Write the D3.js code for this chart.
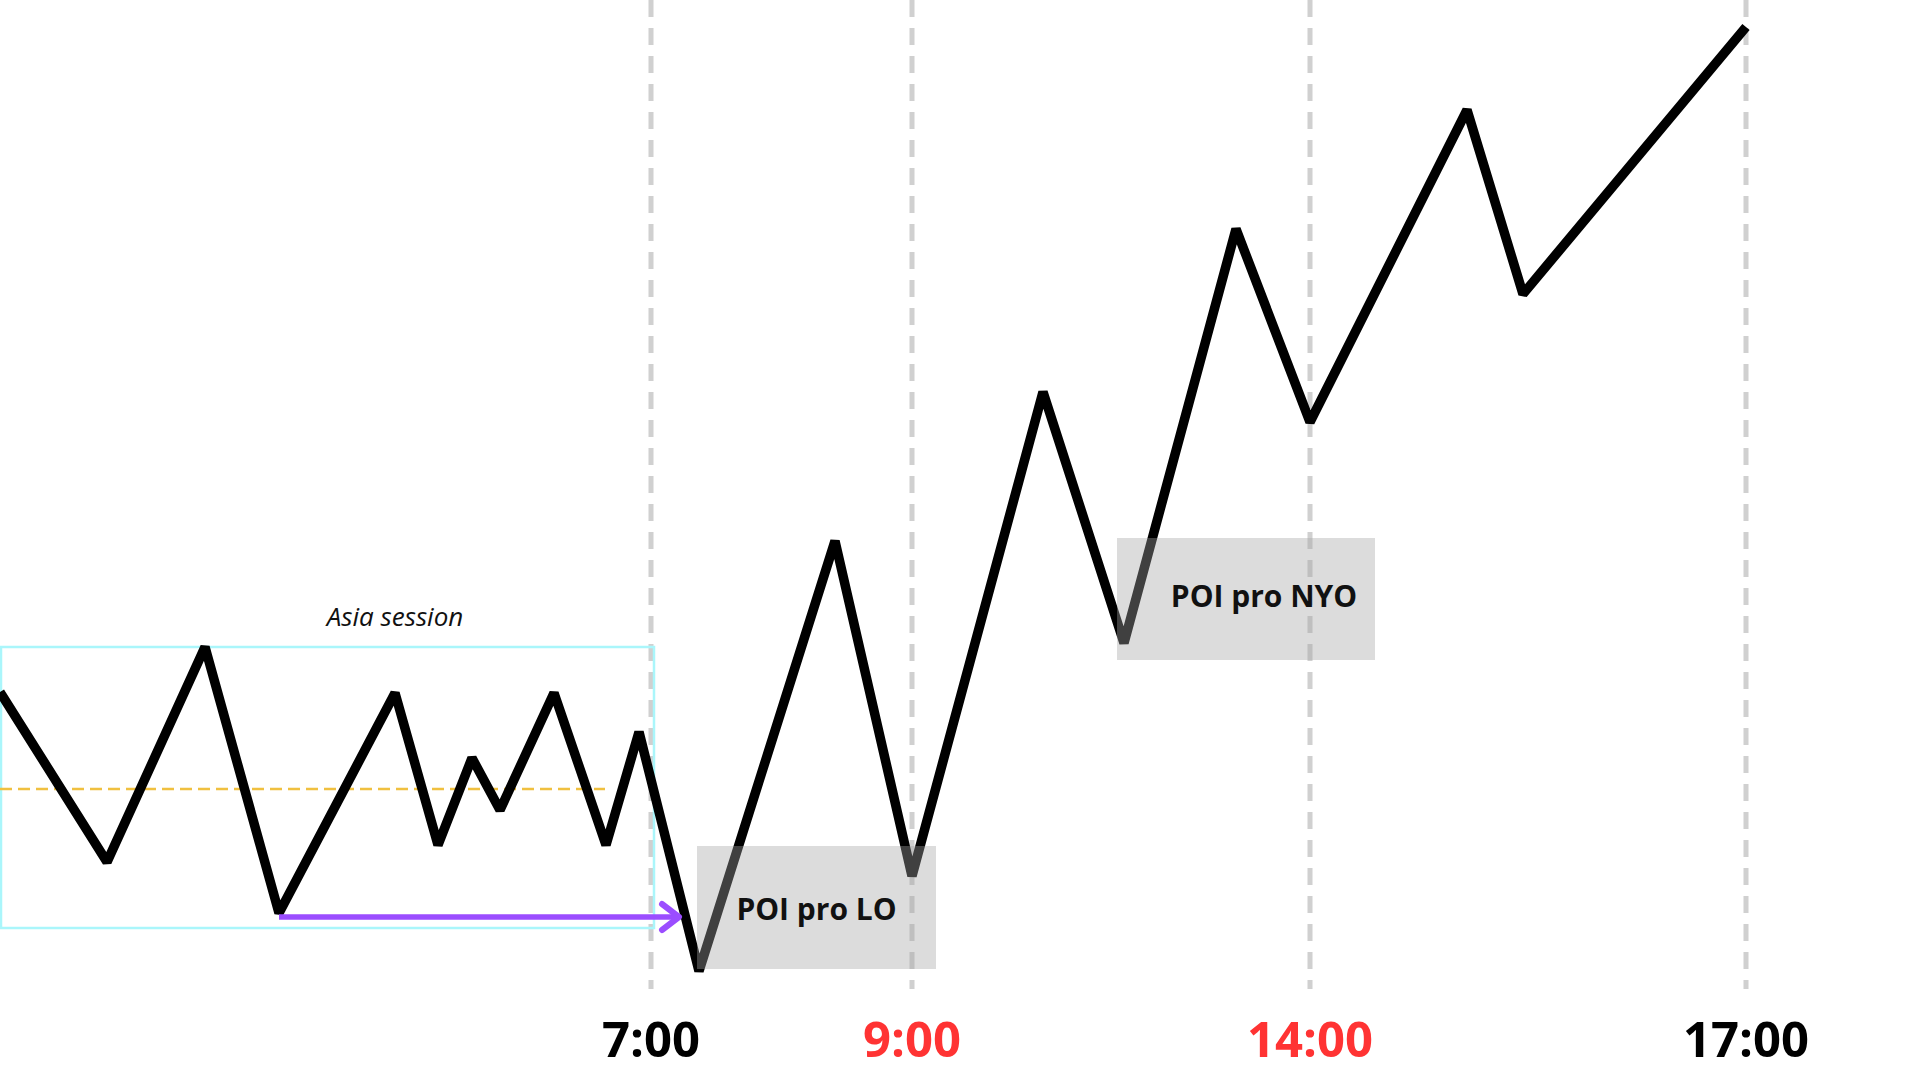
<!doctype html>
<html lang="en">
    <head>
        <meta charset="UTF-8">
        <title>Asia session - POI</title>
        <style>
            html, body { margin: 0; padding: 0; background: #ffffff; }
            svg { display: block; font-family: "Open Sans", sans-serif; }
        </style>
    </head>
    <body>
        <script src="https://d3js.org/d3.v7.min.js"></script>
        <script>
            // price path (x in time units, p in price units)
            var pathX = [0, 10.7, 20.5, 27.9, 39.5, 43.8, 47.2, 50.0, 55.4, 60.6, 63.9, 69.9, 83.5, 91.2, 104.3, 112.4, 123.6, 131.0, 146.7, 152.3, 174.6];
            var pathP = [30.8, 13.8, 35.3, 8.7, 30.7, 15.5, 24.2, 19.0, 30.7, 15.5, 26.8, 2.9, 45.9, 12.4, 60.8, 35.7, 77.1, 57.8, 89.0, 70.6, 97.3];

            // session opens
            var sessionLabels = ["7:00", "9:00", "14:00", "17:00"];
            var sessionX = [65.1, 91.2, 131.0, 174.6];
            var sessionRed = [false, true, true, false];

            // asia range box
            var asiaX = [0.1, 65.4];
            var asiaP = [35.3, 7.2];
            var asiaMid = 21.1;
            var asiaMidEnd = 60.5;

            // arrow from asia low
            var arrowX = [27.9, 67.9];
            var arrowP = 8.3;

            // POI zones
            var poiLabels = ["POI pro LO", "POI pro NYO"];
            var poiX0 = [69.7, 111.7];
            var poiX1 = [93.6, 137.5];
            var poiTop = [15.4, 46.2];
            var poiBottom = [3.1, 34.0];

            var width = 1920,
                height = 1080;

            var x = d3.scaleLinear().domain([0, 192]).range([0, width]);
            var y = d3.scaleLinear().domain([0, 100]).range([1000, 0]);

            var svg = d3.select("body").append("svg")
                .attr("width", width)
                .attr("height", height);

            // session dashed verticals
            svg.selectAll(".session")
                .data(sessionX)
                .enter()
                .append("line")
                    .attr("class", "session")
                    .attr("x1", function(d) { return x(d); })
                    .attr("x2", function(d) { return x(d); })
                    .attr("y1", y(100))
                    .attr("y2", y(1.1))
                    .attr("stroke", "#d0d0d0")
                    .attr("stroke-width", 5)
                    .attr("stroke-dasharray", "17 11");

            // asia box
            svg.append("rect")
                .attr("x", x(asiaX[0]))
                .attr("y", y(asiaP[0]))
                .attr("width", x(asiaX[1]) - x(asiaX[0]))
                .attr("height", y(asiaP[1]) - y(asiaP[0]))
                .attr("fill", "none")
                .attr("stroke", "#aaf6fb")
                .attr("stroke-width", 2.5);

            svg.append("text")
                .attr("x", x(39.5))
                .attr("y", y(asiaP[0]) - 21)
                .attr("text-anchor", "middle")
                .attr("font-style", "italic")
                .attr("font-size", 26)
                .attr("fill", "#111")
                .text("Asia session");

            // asia midline
            svg.append("line")
                .attr("x1", x(0))
                .attr("x2", x(asiaMidEnd))
                .attr("y1", y(asiaMid))
                .attr("y2", y(asiaMid))
                .attr("stroke", "#f0c040")
                .attr("stroke-width", 2.5)
                .attr("stroke-dasharray", "12 6");

            // price line
            var line = d3.line()
                .x(function(d, i) { return x(pathX[i]); })
                .y(function(d) { return y(d); });

            svg.append("path")
                .datum(pathP)
                .attr("d", line)
                .attr("fill", "none")
                .attr("stroke", "#000")
                .attr("stroke-width", 9.5)
                .attr("stroke-linejoin", "bevel");

            // purple arrow
            var ay = y(arrowP);
            svg.append("line")
                .attr("x1", x(arrowX[0]))
                .attr("x2", x(arrowX[1]) - 2)
                .attr("y1", ay)
                .attr("y2", ay)
                .attr("stroke", "#9b4dff")
                .attr("stroke-width", 5.5);
            svg.append("path")
                .attr("d", "M" + (x(arrowX[1]) - 17) + "," + (ay - 13) + "L" + x(arrowX[1]) + "," + ay + "L" + (x(arrowX[1]) - 17) + "," + (ay + 13))
                .attr("fill", "none")
                .attr("stroke", "#9b4dff")
                .attr("stroke-width", 6)
                .attr("stroke-linecap", "round")
                .attr("stroke-linejoin", "round");

            // POI zones
            var zones = svg.selectAll(".poi")
                .data(poiLabels)
                .enter()
                .append("g")
                    .attr("class", "poi");

            zones.append("rect")
                .attr("x", function(d, i) { return x(poiX0[i]); })
                .attr("y", function(d, i) { return y(poiTop[i]); })
                .attr("width", function(d, i) { return x(poiX1[i]) - x(poiX0[i]); })
                .attr("height", function(d, i) { return y(poiBottom[i]) - y(poiTop[i]); })
                .attr("fill", "#a5a5a5")
                .attr("fill-opacity", 0.39);

            zones.append("text")
                .attr("x", function(d, i) { return (x(poiX0[i]) + x(poiX1[i])) / 2 + (i === 1 ? 18 : 0); })
                .attr("y", function(d, i) { return (y(poiTop[i]) + y(poiBottom[i])) / 2 + (i === 1 ? 8 : 12); })
                .attr("text-anchor", "middle")
                .attr("font-weight", "bold")
                .attr("font-size", 30)
                .attr("fill", "#111")
                .text(function(d) { return d; });

            // session labels
            svg.selectAll(".label")
                .data(sessionLabels)
                .enter()
                .append("text")
                    .attr("class", "label")
                    .attr("x", function(d, i) { return x(sessionX[i]); })
                    .attr("y", 1057)
                    .attr("text-anchor", "middle")
                    .attr("font-weight", "bold")
                    .attr("font-size", 49)
                    .attr("fill", function(d, i) { return sessionRed[i] ? "#ff3333" : "#000"; })
                    .text(function(d) { return d; });
        </script>
    </body>
</html>
